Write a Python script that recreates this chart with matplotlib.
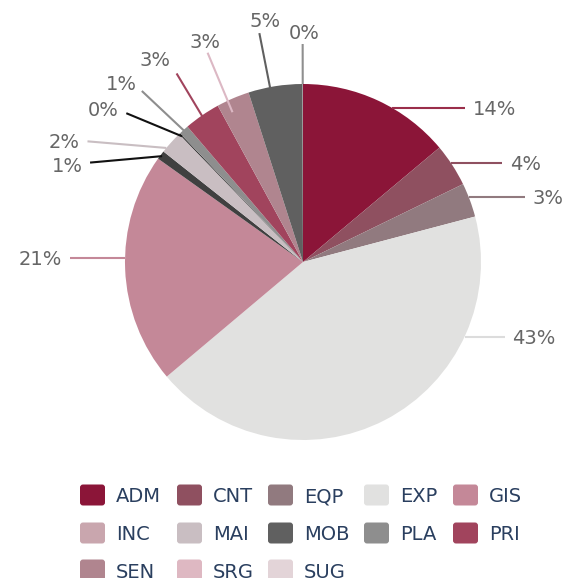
import numpy as np
import matplotlib.pyplot as plt
from matplotlib.patches import FancyBboxPatch

# data
categories = ['ADM', 'CNT', 'EQP', 'EXP', 'GIS', 'INC', 'MAI', 'MOB', 'PLA', 'PRI', 'SEN', 'SRG', 'SUG']
shares = [13.9, 3.9, 3.1, 43.0, 21.0, 0.8, 2.1, 0.1, 0.9, 3.3, 3.0, 4.9, 0.05]

slice_colors = ['#8b1538', '#8f5060', '#917a7f', '#e1e1e0', '#c48898', '#404040', '#c9bec2',
                '#222222', '#8e8e8e', '#a1445d', '#b0858f', '#606060', '#8f8f8f']
legend_colors = ['#8b1538', '#8f5060', '#917a7f', '#e1e1e0', '#c48898', '#c9a6ae', '#c9bec2',
                 '#606060', '#8e8e8e', '#a1445d', '#b0858f', '#deb8c2', '#e3d4d8']
line_colors = ['#9a2e4a', '#8f5060', '#917a7f', '#dcdcdc', '#c48898', '#111111', '#c9bec2',
               '#111111', '#8e8e8e', '#a1445d', '#dcb8c4', '#606060', '#8f8f8f']

# label leader layout (angles in degrees, relative to slice middle)
lead_kind = ['h', 'h', 'h', 'h', 'h', 'r', 'r', 'r', 'r', 'r', 'r', 'r', 'r']
start_shift = [4.9, -1.0, -1.0, -37.7, 3.6, 0.0, -2.3, 0.0, 0.0, -0.7, -2.0, -1.6, 0.0]
start_r = [1.0, 1.0, 1.0, 1.0, 1.0, 0.99, 1.0, 0.98, 0.98, 0.86, 0.93, 0.81, 1.0]
h_len = [73, 51, 56, 40, 55, 0, 0, 0, 0, 0, 0, 0, 0]
end_shift = [0, 0, 0, 0, 0, -11.9, -12.9, -6.0, -1.2, 0.7, -1.3, -1.8, 0.0]
end_r = [0, 0, 0, 0, 0, 235, 247, 231, 235, 227, 230, 233, 218]
text_shift = [0, 0, 0, 0, 0, -14.5, -15.3, -8.6, -3.4, -1.5, -0.6, 0.1, 0.5]
text_r = [0, 0, 0, 0, 0, 255, 268, 252, 255, 251, 242, 245, 230]

W, H = 570, 578
cx, cy, R = 303, H - 262, 178

fig = plt.figure(figsize=(W / 100, H / 100), dpi=100)
ax = fig.add_axes([0, 0, 1, 1])

ax.pie(shares, colors=slice_colors, startangle=90, counterclock=False,
       radius=R, center=(cx, cy), wedgeprops=dict(linewidth=0))

ax.set_xlim(0, W)
ax.set_ylim(0, H)
ax.set_aspect('equal')
ax.axis('off')


def polar(theta, r):
    t = np.deg2rad(theta)
    return cx + r * np.sin(t), cy + r * np.cos(t)


total = sum(shares)
cum = np.cumsum([0] + shares[:-1])
label_color = '#666666'
fs = 14
half_cap = 7

for i, v in enumerate(shares):
    mid = 360 * (cum[i] + v / 2) / total
    txt = f'{100 * v / total:.0f}%'
    x0, y0 = polar(mid + start_shift[i], R * start_r[i])
    if lead_kind[i] == 'h':
        side = 1 if np.sin(np.deg2rad(mid + start_shift[i])) > 0 else -1
        x1 = x0 + side * h_len[i]
        ax.plot([x0, x1], [y0, y0], color=line_colors[i], lw=1.5, solid_capstyle='butt')
        ax.text(x1 + side * 8, y0 - half_cap, txt, ha='left' if side > 0 else 'right',
                va='baseline', fontsize=fs, color=label_color)
    else:
        x1, y1 = polar(mid + end_shift[i], end_r[i])
        ax.plot([x0, x1], [y0, y1], color=line_colors[i], lw=1.5, solid_capstyle='butt')
        tx, ty = polar(mid + text_shift[i], text_r[i])
        ax.text(tx, ty - half_cap, txt, ha='center', va='baseline',
                fontsize=fs, color=label_color)

# legend
col_x = [80, 177, 268, 364, 453]
row_y = [495, 533, 570]
for i, name in enumerate(categories):
    x = col_x[i % 5]
    y = H - row_y[i // 5]
    ax.add_patch(FancyBboxPatch((x, y - 10.5), 25, 21,
                                boxstyle='round,pad=0,rounding_size=3',
                                facecolor=legend_colors[i], edgecolor='none'))
    ax.text(x + 36, y - 7.5, name, ha='left', va='baseline', fontsize=fs, color='#2a3f5f')

fig.savefig('out.png', dpi=100)
plt.close(fig)
